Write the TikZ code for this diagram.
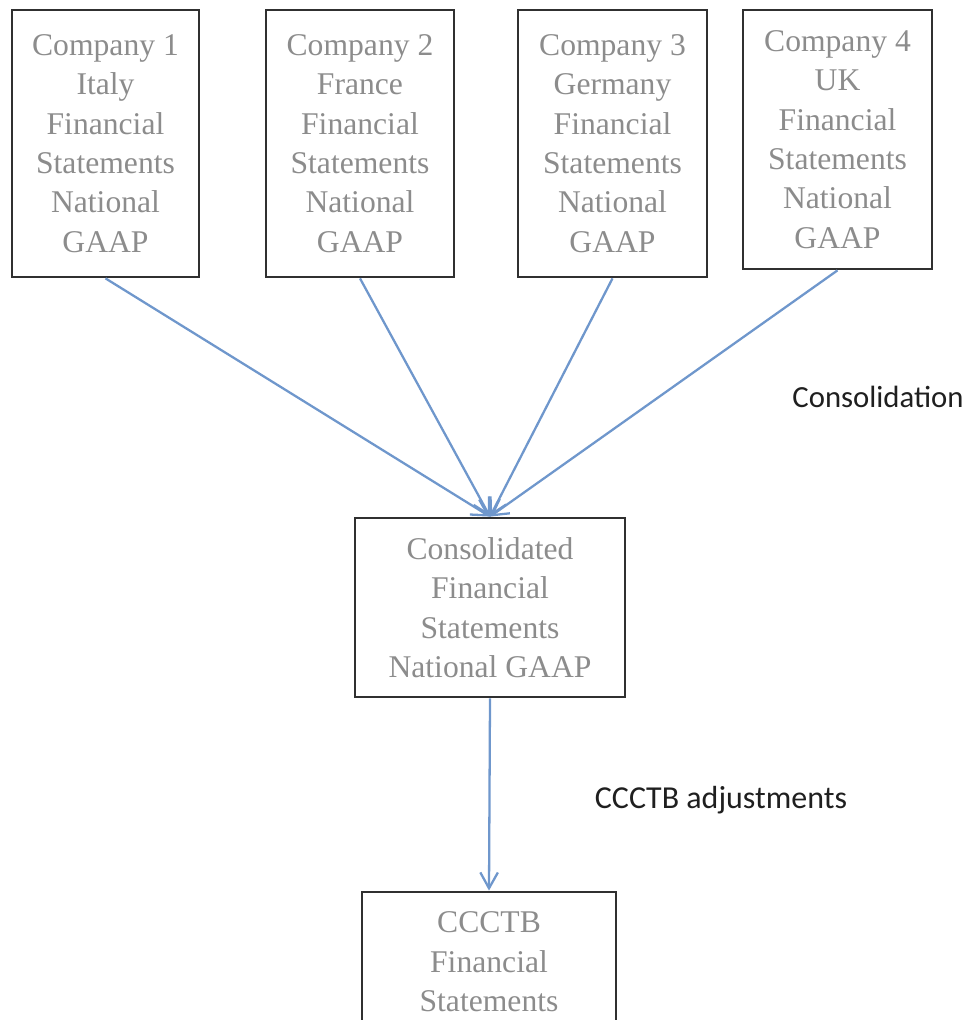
\documentclass[tikz,border=0pt]{standalone}
\usepackage{fontspec}
\setmainfont{Liberation Serif}
\newfontfamily\labelfont{Carlito}
\usetikzlibrary{arrows.meta}
\definecolor{boxtext}{HTML}{8C8C8C}
\definecolor{boxline}{HTML}{303030}
\definecolor{flowblue}{HTML}{6F97CC}
\tikzset{
  fsbox/.style={draw=boxline,line width=1.6pt,inner sep=0pt,align=center,
    text=boxtext,font=\fontsize{18}{22.4}\selectfont},
  flow/.style={draw=flowblue,line width=1.3pt,-{Straight Barb[length=9pt,width=10pt]}},
  steplabel/.style={text=black!88,font=\labelfont\fontsize{17.5}{20}\selectfont}
}

\begin{document}
\begin{tikzpicture}[x=0.02cm,y=-0.02cm]
        \useasboundingbox (0,0) rectangle (970,1020);
        % companies
        \node[fsbox,minimum width=3.74cm,minimum height=5.34cm] (c1) at (105.5,143.5)
            {Company 1\\Italy\\Financial\\Statements\\National\\GAAP};
        \node[fsbox,minimum width=3.76cm,minimum height=5.34cm] (c2) at (360,143.5)
            {Company 2\\France\\Financial\\Statements\\National\\GAAP};
        \node[fsbox,minimum width=3.78cm,minimum height=5.34cm] (c3) at (612.5,143.5)
            {Company 3\\Germany\\Financial\\Statements\\National\\GAAP};
        \node[fsbox,minimum width=3.78cm,minimum height=5.18cm] (c4) at (837.5,139.5)
            {Company 4\\UK\\Financial\\Statements\\National\\GAAP};
        % consolidated level
        \node[fsbox,minimum width=5.4cm,minimum height=3.58cm] (cons) at (490,607.5)
            {Consolidated\\Financial\\Statements\\National GAAP};
        \node[fsbox,minimum width=5.08cm,minimum height=2.8cm] (ccctb) at (489,962)
            {CCCTB\\Financial\\Statements};
        % labels
        \node[steplabel] (lcons) at (878,397) {Consolidation};
        \node[steplabel,font=\labelfont\fontsize{18.2}{20}\selectfont] (ladj) at (721,800) {CCCTB adjustments};
        % connectors
        \draw[flow] (c1.south) -- (cons.north);
        \draw[flow] (c2.south) -- (cons.north);
        \draw[flow] (c3.south) -- (cons.north);
        \draw[flow] (c4.south) -- (cons.north);
        \draw[flow] (cons.south) -- (ccctb.north);
    \end{tikzpicture}
\end{document}
